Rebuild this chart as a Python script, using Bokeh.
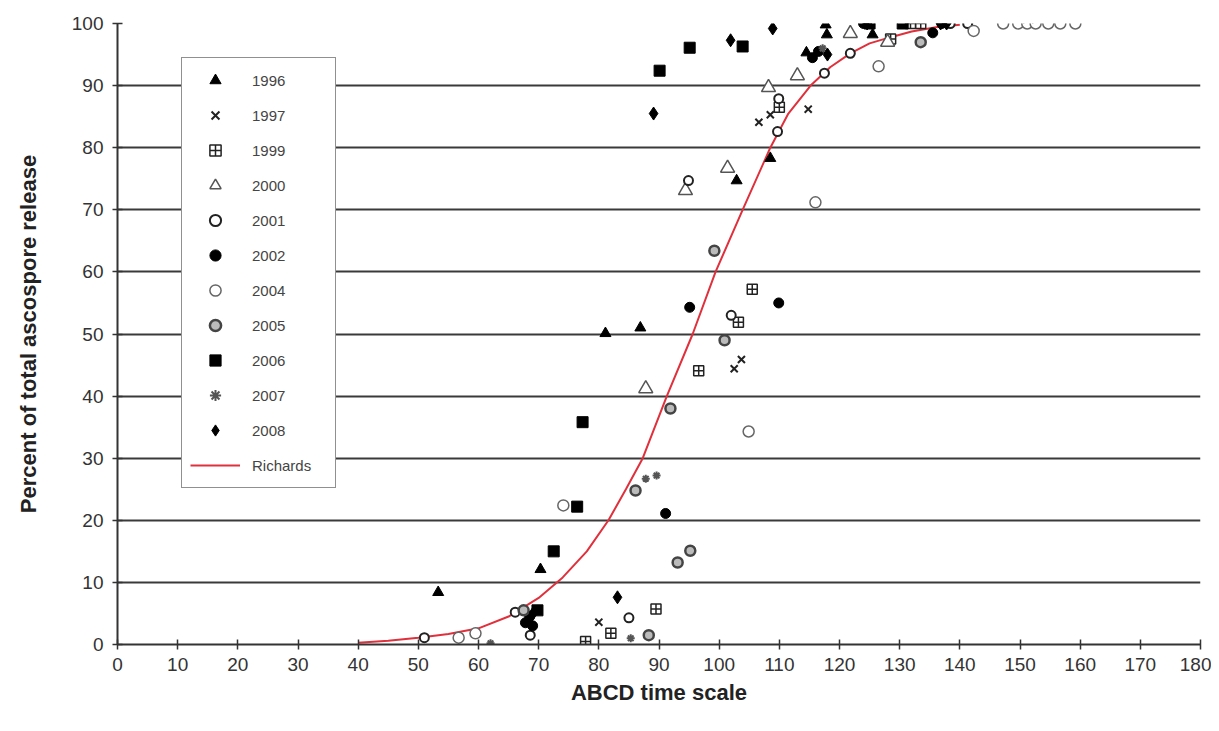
from bokeh.plotting import figure
from bokeh.models import Range1d, Legend, LegendItem, FixedTicker
from bokeh.embed import file_html
from bokeh.resources import INLINE

# ---- data ----
y1996_x = [53.3, 70.3, 81.1, 86.9, 102.9, 108.5, 114.5, 117.7, 117.9, 125.5]
y1996_y = [8.4, 12.1, 50.1, 51.0, 74.7, 78.3, 95.3, 99.8, 98.2, 98.2]

y1997_x = [80.0, 102.5, 103.7, 106.6, 108.5, 110.0, 114.8]
y1997_y = [3.6, 44.4, 45.9, 84.1, 85.3, 86.5, 86.2]

y1999_x = [77.8, 82.0, 89.5, 96.6, 103.2, 105.5, 110.0, 128.5, 131.8, 133.5]
y1999_y = [0.5, 1.8, 5.7, 44.1, 51.9, 57.2, 86.5, 97.5, 100.0, 100.0]

y2000_x = [87.8, 94.4, 101.4, 108.2, 113.0, 121.8, 128.0]
y2000_y = [41.2, 73.1, 76.7, 89.7, 91.6, 98.4, 97.0]

y2001_x = [51.0, 66.1, 68.6, 85.0, 94.9, 102.0, 109.7, 109.9, 117.5, 121.8, 138.4, 141.3]
y2001_y = [1.1, 5.2, 1.5, 4.3, 74.7, 53.0, 82.6, 87.9, 92.0, 95.2, 100.0, 100.0]

y2002_x = [67.8, 68.5, 69.0, 91.1, 95.1, 109.9, 115.5, 116.5, 124.0, 135.5, 137.0]
y2002_y = [3.5, 4.5, 3.0, 21.1, 54.3, 55.0, 94.5, 95.5, 100.0, 98.5, 100.0]

y2004_x = [56.7, 59.5, 74.1, 104.9, 116.0, 126.5, 142.3, 147.2, 149.7, 151.2, 152.6, 154.7, 156.7, 159.2]
y2004_y = [1.1, 1.8, 22.4, 34.3, 71.2, 93.1, 98.8, 100.0, 100.0, 100.0, 100.0, 100.0, 100.0, 100.0]

y2005_x = [67.5, 86.1, 88.3, 91.9, 93.1, 95.2, 99.2, 100.9, 133.5]
y2005_y = [5.5, 24.8, 1.5, 38.0, 13.2, 15.1, 63.4, 49.0, 97.0]

y2006_x = [69.8, 72.5, 76.4, 77.3, 90.1, 95.1, 103.9, 125.0, 130.5]
y2006_y = [5.5, 15.0, 22.2, 35.8, 92.4, 96.1, 96.3, 100.0, 100.0]

y2007_x = [62.0, 85.3, 87.8, 89.6, 117.2]
y2007_y = [0.2, 1.0, 26.7, 27.2, 96.0]

y2008_x = [69.2, 83.1, 89.1, 101.9, 108.9, 118.0, 124.6, 136.8, 137.8]
y2008_y = [5.2, 7.6, 85.5, 97.3, 99.2, 95.0, 100.0, 100.0, 100.0]

richards_x = [40, 45, 50, 55, 60, 65, 70, 74, 78, 81.6, 84.5, 87.3, 91.3, 95.6, 99.4,
              103.9, 108.5, 111.5, 115.2, 118.5, 121.8, 125, 128.5, 132, 136, 140]
richards_y = [0.3, 0.6, 1.1, 1.7, 2.6, 4.5, 7.5, 10.8, 15, 20, 25, 30, 40, 50, 60,
              70, 80, 85.5, 90, 93, 95.2, 96.8, 97.8, 98.7, 99.4, 99.8]

x_ticks = list(range(0, 181, 10))
y_ticks = list(range(0, 101, 10))

FONT = "Liberation Sans"

p = figure(width=1211, height=723, output_backend="svg", toolbar_location=None,
           x_range=Range1d(0, 180), y_range=Range1d(0, 100),
           min_border_left=117, min_border_right=11, min_border_top=23,
           min_border_bottom=79)
p.outline_line_color = None
p.background_fill_color = "white"

p.xgrid.grid_line_color = None
p.ygrid.grid_line_color = "#3a3a3a"
p.ygrid.grid_line_width = 2
p.ygrid.ticker = FixedTicker(ticks=y_ticks)

for ax in (p.xaxis[0], p.yaxis[0]):
    ax.axis_line_color = "#333333"
    ax.axis_line_width = 2
    ax.major_tick_line_color = "#333333"
    ax.major_tick_line_width = 1.5
    ax.major_tick_in = 5
    ax.major_tick_out = 5
    ax.minor_tick_line_color = None
    ax.major_label_text_font = FONT
    ax.major_label_text_font_size = "19px"
    ax.major_label_text_color = "#333333"
    ax.axis_label_text_font = FONT
    ax.axis_label_text_font_style = "bold"
    ax.axis_label_text_font_size = "22px"
    ax.axis_label_text_color = "#222222"

p.xaxis.ticker = FixedTicker(ticks=x_ticks)
p.yaxis.ticker = FixedTicker(ticks=y_ticks)
p.xaxis.axis_label = "ABCD time scale"
p.yaxis.axis_label = "Percent of total ascospore release"
p.xaxis.major_label_standoff = 8
p.yaxis.major_label_standoff = 9
p.xaxis.axis_label_standoff = 6
p.yaxis.axis_label_standoff = 28

rich = p.line(richards_x, richards_y, line_color="#e0303c", line_width=2)

r1996 = p.scatter(y1996_x, y1996_y, marker="triangle", size=11, fill_color="black", line_color="black")
r1997 = p.scatter(y1997_x, y1997_y, marker="x", size=10, line_color="#222222", line_width=2)
r1999 = p.scatter(y1999_x, y1999_y, marker="square_cross", size=10, fill_color="white", line_color="#222222", line_width=1.5)
r2000 = p.scatter(y2000_x, y2000_y, marker="triangle", size=14, fill_color="white", line_color="#555555", line_width=1.5)
r2001 = p.scatter(y2001_x, y2001_y, marker="circle", size=9, fill_color="white", line_color="#222222", line_width=2)
r2002 = p.scatter(y2002_x, y2002_y, marker="circle", size=10, fill_color="black", line_color="black")
r2004 = p.scatter(y2004_x, y2004_y, marker="circle", size=11, fill_color="white", line_color="#666666", line_width=1.5)
r2005 = p.scatter(y2005_x, y2005_y, marker="circle", size=10, fill_color="#bbbbbb", line_color="#444444", line_width=2.5)
r2006 = p.scatter(y2006_x, y2006_y, marker="square", size=11, fill_color="black", line_color="black")
r2007 = p.scatter(y2007_x, y2007_y, marker="asterisk", size=8, line_color="#555555", line_width=2)
r2008 = p.scatter(y2008_x, y2008_y, marker="diamond", size=13, fill_color="black", line_color="black")

items = [
    LegendItem(label="1996", renderers=[r1996]),
    LegendItem(label="1997", renderers=[r1997]),
    LegendItem(label="1999", renderers=[r1999]),
    LegendItem(label="2000", renderers=[r2000]),
    LegendItem(label="2001", renderers=[r2001]),
    LegendItem(label="2002", renderers=[r2002]),
    LegendItem(label="2004", renderers=[r2004]),
    LegendItem(label="2005", renderers=[r2005]),
    LegendItem(label="2006", renderers=[r2006]),
    LegendItem(label="2007", renderers=[r2007]),
    LegendItem(label="2008", renderers=[r2008]),
    LegendItem(label="Richards", renderers=[rich]),
]
legend = Legend(items=items, location=(64, 156))
legend.border_line_color = "#222222"
legend.border_line_width = 1.5
legend.background_fill_color = "white"
legend.background_fill_alpha = 1.0
legend.label_text_font = FONT
legend.label_text_font_size = "15px"
legend.label_text_color = "#444444"
legend.glyph_width = 50
legend.glyph_height = 28
legend.label_height = 28
legend.label_width = 75
legend.spacing = 7
legend.padding = 8
legend.margin = 0
legend.label_standoff = 12
p.add_layout(legend)

open("out.html", "w").write(file_html(p, INLINE))
